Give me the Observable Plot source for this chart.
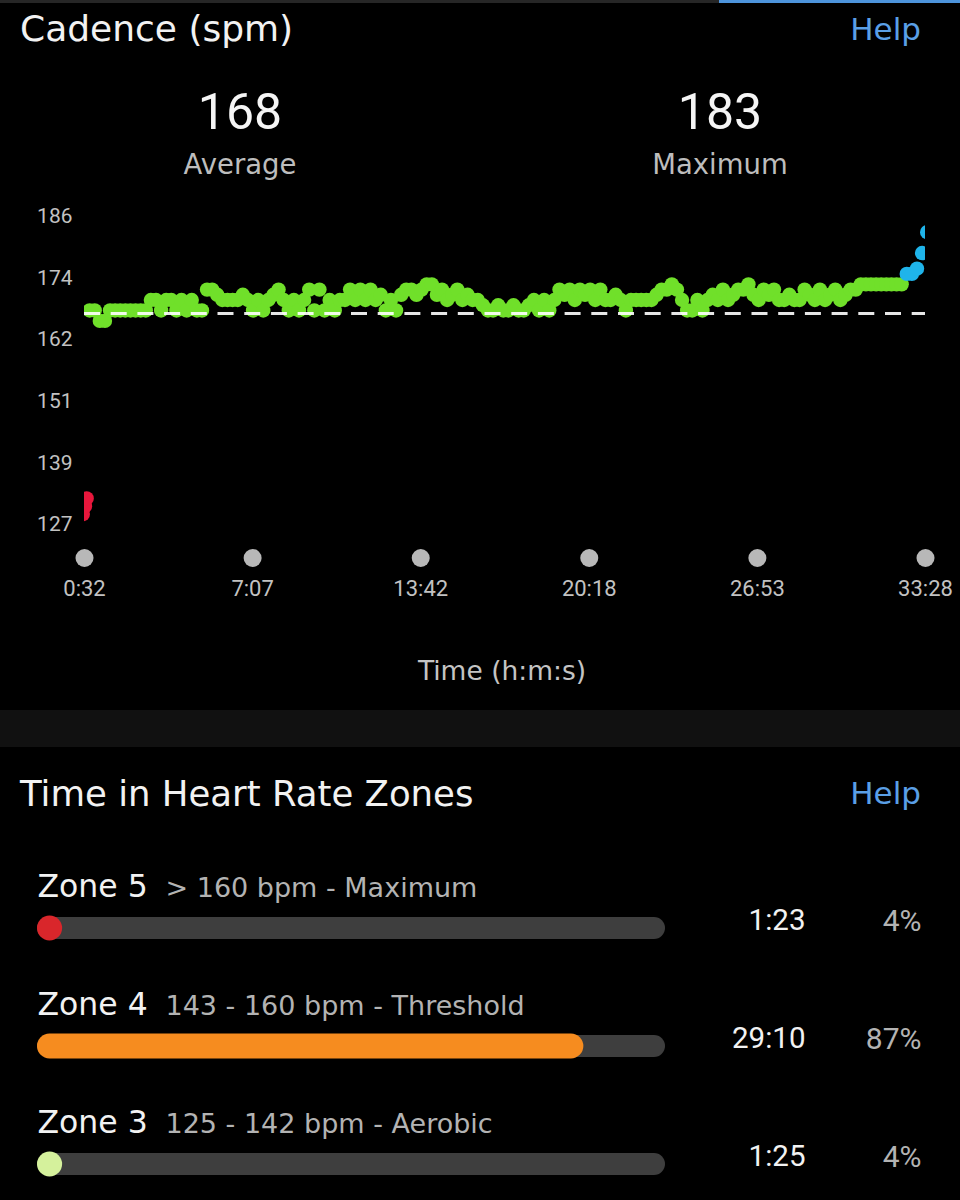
<!DOCTYPE html>
<html>
<head>
<meta charset="utf-8">
<script src="https://cdn.jsdelivr.net/npm/d3@7"></script>
<script src="https://cdn.jsdelivr.net/npm/@observablehq/plot@0.6"></script>
<style>
html, body { margin: 0; padding: 0; background: #000; }
#page { position: relative; width: 960px; height: 1200px; background: #000; overflow: hidden; font-family: "DejaVu Sans", sans-serif; }
.abs { position: absolute; line-height: 1; white-space: nowrap; }
.num { font-family: Roboto, sans-serif; }
#cadence { position: absolute; left: 0; top: 190px; }
#zones { position: absolute; left: 0; top: 830px; }
</style>
</head>
<body>
<div id="page">
  <div class="abs" style="left:0;top:0;width:719px;height:3px;background:#262626"></div>
  <div class="abs" style="left:719px;top:0;width:241px;height:3px;background:#4d94dc"></div>

  <div class="abs" style="left:20px;top:11px;font-size:36px;color:#f2f2f2">Cadence (spm)</div>
  <div class="abs" style="right:39px;top:14px;font-size:31px;color:#5a9fe6">Help</div>

  <div class="abs num" id="avgVal" style="left:0;width:480px;text-align:center;top:87px;font-size:50px;color:#f5f5f5"></div>
  <div class="abs" style="left:0;width:480px;text-align:center;top:151px;font-size:27.5px;color:#bdbdbd">Average</div>
  <div class="abs num" id="maxVal" style="left:480px;width:480px;text-align:center;top:87px;font-size:50px;color:#f5f5f5"></div>
  <div class="abs" style="left:480px;width:480px;text-align:center;top:151px;font-size:27.5px;color:#bdbdbd">Maximum</div>

  <div id="cadence"></div>

  <div class="abs" style="left:502px;transform:translateX(-50%);top:658px;font-size:26.5px;color:#c4c4c4">Time (h:m:s)</div>

  <div class="abs" style="left:0;top:710px;width:960px;height:37px;background:#111"></div>

  <div class="abs" style="left:20px;top:776px;font-size:35.5px;color:#f2f2f2">Time in Heart Rate Zones</div>
  <div class="abs" style="right:39px;top:778px;font-size:31px;color:#5a9fe6">Help</div>

  <div id="zones"></div>
</div>

<script>
// ---------- Cadence data ----------
const averageCadence = 168;      // shown value
const averageLineValue = 167.4;  // where the dashed average line sits
const maximumCadence = 183;

const xTickSeconds = [32, 427, 822, 1218, 1613, 2008];
const yTickValues = [127, 138.8, 150.6, 162.4, 174.2, 186];

// first samples (red, low cadence at the start)
const warmupTimes = [28, 33, 37];
const warmupCadence = [129, 130.5, 132];

// regular samples: every 12 s starting at 44 s
const cadenceStartSec = 44;
const cadenceStepSec = 12;
const cadence = [
  168,168,166,166,168,168,168,168,168,168,168,168,
  170,170,168,170,170,168,170,168,170,168,168,
  172,172,171,170,170,170,170,171,170,168,170,168,170,171,172,170,168,170,168,170,172,168,
  172,168,170,168,
  170,170,172,170,172,170,172,170,171,168,170,168,171,
  172,172,171,172,173,173,
  171,172,170,171,172,170,171,170,170,
  169,168,168,169,168,168,169,168,168,169,170,168,170,168,
  170,172,171,172,170,172,171,172,170,172,170,170,171,170,168,170,170,170,170,170,
  171,172,172,173,172,170,168,168,170,
  168,170,171,170,172,170,171,172,172,173,171,170,172,171,172,170,170,171,170,170,
  172,171,170,172,170,171,172,170,171,172,172,173,173,173,173,173,173,173,173,173,
  175,175,176,179,183
];

const cadenceThresholds = [153, 164, 174, 184];
const cadenceColors = ["#e8173c", "#f68c1f", "#70e02a", "#1fb4ea", "#a05cd6"];

// ---------- Heart-rate zone data ----------
const zoneNames = ["Zone 5", "Zone 4", "Zone 3"];
const zoneRanges = ["> 160 bpm - Maximum", "143 - 160 bpm - Threshold", "125 - 142 bpm - Aerobic"];
const zoneTimes = ["1:23", "29:10", "1:25"];
const zonePercents = [4, 87, 4];
const zoneColors = ["#d9262b", "#f68c1f", "#d5f19c"];

// ---------- build ----------
document.getElementById("avgVal").textContent = averageCadence;
document.getElementById("maxVal").textContent = maximumCadence;

const fmtTime = s => `${Math.floor(s / 60)}:${String(Math.round(s % 60)).padStart(2, "0")}`;

const points = warmupTimes.map((t, i) => ({t, v: warmupCadence[i]}))
  .concat(cadence.map((v, i) => ({t: cadenceStartSec + i * cadenceStepSec, v})));

const cadencePlot = Plot.plot({
  width: 960,
  height: 420,
  marginTop: 26,
  marginBottom: 86,
  marginLeft: 84,
  marginRight: 35,
  style: {background: "transparent", color: "#bdbdbd", fontFamily: "Roboto, sans-serif"},
  x: {domain: [32, 2008]},
  y: {domain: [127, 186]},
  color: {type: "threshold", domain: cadenceThresholds, range: cadenceColors},
  marks: [
    Plot.axisY({ticks: yTickValues, tickFormat: d => d.toFixed(0), tickSize: 0, tickPadding: 12,
      fontSize: 21, fill: "#c2c2c2", fontFamily: "Roboto, sans-serif", label: null}),
    Plot.axisX({ticks: xTickSeconds, tickFormat: fmtTime, tickSize: 0, tickPadding: 56,
      fontSize: 22, fill: "#c2c2c2", fontFamily: "Roboto, sans-serif", label: null}),
    Plot.dot(xTickSeconds, {x: d => d, frameAnchor: "bottom", dy: 33.5, r: 9, fill: "#b8b8b8"}),
    Plot.dot(points, {x: "t", y: "v", r: 7.2, fill: "v", clip: true}),
    Plot.ruleY([averageLineValue], {stroke: "#ffffff", strokeWidth: 3, strokeDasharray: "16,10.7", strokeOpacity: 0.9})
  ]
});
document.getElementById("cadence").appendChild(cadencePlot);

const zoneRows = zoneNames.map((z, i) => ({
  zone: z, range: zoneRanges[i], time: zoneTimes[i], pct: zonePercents[i], color: zoneColors[i]
}));

const zonesPlot = Plot.plot({
  width: 960,
  height: 370,
  marginLeft: 37,
  marginRight: 295,
  marginTop: 0,
  marginBottom: 0,
  style: {background: "transparent"},
  x: {domain: [0, 100], axis: null},
  y: {type: "band", domain: zoneNames, range: [38.875, 393.625], padding: 0, axis: null},
  marks: [
    Plot.barX(zoneRows, {y: "zone", x1: 0, x2: 100, fill: "#3e3e3e", rx: 11, insetTop: 48.1, insetBottom: 48.1}),
    Plot.barX(zoneRows, {y: "zone", x1: 0, x2: "pct", fill: "color", rx: 12.5, insetTop: 46.6, insetBottom: 46.6}),
    Plot.text(zoneRows, {y: "zone", x: 0, text: "zone", dx: 0, dy: -54, textAnchor: "start", lineAnchor: "top",
      fontFamily: "DejaVu Sans, sans-serif", fontSize: 31.5, fill: "#f2f2f2"}),
    Plot.text(zoneRows, {y: "zone", x: 0, text: "range", dx: 128, dy: -51, textAnchor: "start", lineAnchor: "top",
      fontFamily: "DejaVu Sans, sans-serif", fontSize: 27, fill: "#b3b3b3"}),
    Plot.text(zoneRows, {y: "zone", x: 100, text: "time", dx: 140, dy: -19, textAnchor: "end", lineAnchor: "top",
      fontFamily: "Roboto, sans-serif", fontSize: 29.5, fill: "#f2f2f2"}),
    Plot.text(zoneRows, {y: "zone", x: 100, text: d => d.pct + "%", dx: 256, dy: -19, textAnchor: "end", lineAnchor: "top",
      fontFamily: "Roboto, sans-serif", fontSize: 30, fill: "#b3b3b3"})
  ]
});
document.getElementById("zones").appendChild(zonesPlot);
</script>
</body>
</html>
